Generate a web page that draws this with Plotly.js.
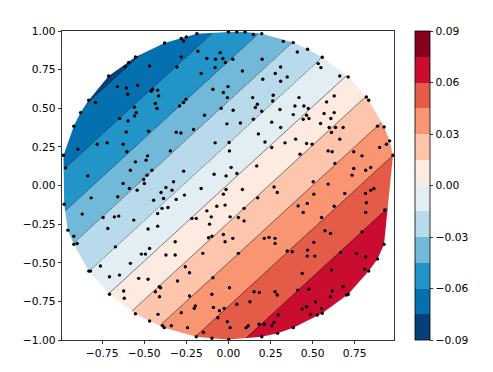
<!DOCTYPE html>
<html>
<head>
<meta charset="utf-8">
<script src="https://cdn.plot.ly/plotly-3.0.1.min.js"></script>
<style>html,body{margin:0;padding:0;background:#fff;}#chart{width:493px;height:372px;}</style>
</head>
<body>
<div id="chart"></div>
<script>
// scattered sample points
const ptsX = [
-0.379,-0.552,-0.592,-0.612,-0.468,-0.711,-0.659,-0.606,-0.539,-0.598,-0.450,-0.458,-0.420,-0.414,-0.829,-0.789,-0.558,-0.434,-0.424,-0.547,-0.557,-0.878,-0.645,-0.596,-0.918,-0.607,-0.474,
-0.280,-0.266,-0.250,-0.187,0.000,0.050,0.099,0.148,0.198,0.326,-0.181,-0.049,-0.128,-0.077,-0.033,-0.018,0.026,0.200,-0.280,-0.306,-0.079,-0.162,0.083,0.310,0.278,0.349,0.204,0.310,-0.002,-0.092,-0.030,-0.006,-0.252,-0.266,-0.290,-0.043,0.028,0.144,0.172,0.160,0.198,0.266,0.263,0.306,-0.142,-0.009,0.071,0.148,0.257,0.310,-0.310,-0.282,-0.207,0.178,
0.385,0.470,0.409,0.557,0.533,0.549,0.661,0.711,0.419,0.819,0.833,0.628,0.395,0.448,0.583,0.474,0.464,0.478,0.444,0.385,0.568,0.628,0.608,0.547,0.598,0.612,0.636,0.681,0.885,0.924,
-0.894,-0.779,-0.720,-0.625,-0.602,-0.345,-0.979,-0.967,-0.480,-0.489,-0.552,-0.582,-0.454,-0.483,-0.835,-0.503,-0.499,-0.326,-0.625,-0.542,-0.588,-0.371,-0.335,-0.400,-0.657,-0.815,-0.444,-0.385,-0.975,-0.868,-0.744,-0.677,-0.651,-0.562,-0.394,-0.359,-0.420,-0.953,-0.918,-0.716,-0.477,-0.420,
-0.079,0.004,0.006,0.217,0.257,0.336,-0.266,-0.085,-0.014,0.016,0.050,0.168,-0.310,-0.261,-0.162,-0.030,-0.014,0.083,0.174,0.271,0.290,-0.069,-0.020,-0.128,0.093,0.010,0.059,0.093,-0.102,-0.217,-0.191,-0.112,-0.098,-0.118,-0.030,0.026,0.213,0.241,0.277,
0.399,0.464,0.497,0.661,0.592,0.616,0.425,0.744,0.793,0.632,0.744,0.815,0.845,0.734,0.898,0.938,0.957,0.977,0.503,0.592,0.507,0.691,0.814,0.845,0.864,0.819,0.414,0.468,0.628,0.444,0.815,0.928,0.553,0.573,0.606,0.793,
-0.918,-0.898,-0.671,-0.517,-0.493,-0.468,-0.371,-0.829,-0.819,-0.760,-0.582,-0.706,-0.647,-0.533,-0.477,-0.706,-0.622,-0.618,-0.410,-0.403,-0.434,-0.409,-0.552,-0.468,-0.418,-0.391,-0.381,-0.339,
-0.316,-0.316,-0.020,-0.152,-0.256,-0.231,-0.302,0.277,0.349,0.059,-0.092,0.006,-0.231,-0.098,0.152,0.184,0.277,0.290,0.128,-0.197,-0.203,-0.089,-0.053,-0.025,0.050,-0.280,-0.063,-0.006,0.010,0.105,0.118,0.182,0.213,0.257,0.271,0.296,-0.243,-0.148,-0.098,-0.191,0.198,0.292,0.002,
0.507,0.470,0.379,0.468,0.513,0.438,0.612,0.666,0.760,0.815,0.885,0.924,0.809,0.833,0.411,0.478,0.616,0.606,0.681,0.711,0.701,0.517,0.438,0.464,0.488,0.527,0.553,0.557,0.385
];
const ptsY = [
0.922,0.832,0.796,0.767,0.774,0.709,0.640,0.631,0.649,0.591,0.623,0.610,0.617,0.580,0.552,0.537,0.507,0.531,0.498,0.472,0.450,0.472,0.434,0.418,0.384,0.347,0.351,
0.951,0.935,0.961,0.983,0.994,0.994,0.994,0.977,0.983,0.933,0.869,0.860,0.822,0.817,0.822,0.796,0.817,0.817,0.832,0.767,0.763,0.725,0.741,0.767,0.725,0.703,0.688,0.675,0.640,0.623,0.602,0.569,0.558,0.537,0.515,0.500,0.487,0.569,0.526,0.505,0.481,0.584,0.547,0.492,0.455,0.399,0.405,0.429,0.410,0.375,0.345,0.340,0.362,0.334,
0.925,0.882,0.864,0.830,0.789,0.763,0.709,0.703,0.569,0.573,0.552,0.580,0.515,0.515,0.541,0.498,0.455,0.434,0.429,0.459,0.466,0.472,0.434,0.401,0.375,0.343,0.375,0.375,0.384,0.379,
0.235,0.267,0.276,0.267,0.218,0.224,0.196,0.114,0.192,0.164,0.153,0.099,0.099,0.067,0.062,0.039,0.013,0.024,0.013,-0.030,-0.019,-0.013,-0.030,-0.045,-0.073,-0.080,-0.095,-0.084,-0.121,-0.185,-0.207,-0.203,-0.198,-0.224,-0.148,-0.142,-0.181,-0.289,-0.328,-0.278,-0.282,-0.263,
0.276,0.278,0.224,0.282,0.246,0.276,0.093,0.073,0.062,0.117,0.078,0.127,-0.090,-0.062,-0.019,-0.056,-0.026,-0.026,-0.080,-0.009,-0.045,-0.134,-0.127,-0.164,-0.148,-0.203,-0.207,-0.229,-0.203,-0.213,-0.213,-0.250,-0.328,-0.338,-0.317,-0.342,-0.342,-0.336,-0.342,
0.300,0.272,0.267,0.300,0.224,0.218,0.203,0.218,0.192,0.143,0.110,0.099,0.117,0.067,0.246,0.267,0.289,0.196,0.024,0.009,-0.056,-0.051,-0.051,-0.030,-0.019,-0.112,-0.132,-0.116,-0.134,-0.174,-0.174,-0.159,-0.207,-0.293,-0.310,-0.300,
-0.381,-0.375,-0.397,-0.444,-0.444,-0.407,-0.450,-0.554,-0.554,-0.521,-0.504,-0.591,-0.580,-0.601,-0.607,-0.704,-0.683,-0.730,-0.655,-0.662,-0.688,-0.720,-0.830,-0.877,-0.834,-0.908,-0.920,-0.908,
-0.364,-0.450,-0.364,-0.439,-0.526,-0.565,-0.618,-0.375,-0.424,-0.439,-0.597,-0.662,-0.715,-0.704,-0.688,-0.692,-0.688,-0.709,-0.752,-0.780,-0.795,-0.789,-0.811,-0.795,-0.769,-0.823,-0.856,-0.882,-0.920,-0.920,-0.908,-0.898,-0.898,-0.908,-0.886,-0.838,-0.920,-0.950,-0.989,-0.979,-0.979,-0.957,-0.996,
-0.368,-0.418,-0.429,-0.457,-0.457,-0.569,-0.547,-0.433,-0.439,-0.461,-0.476,-0.381,-0.541,-0.554,-0.677,-0.670,-0.683,-0.720,-0.655,-0.704,-0.709,-0.752,-0.800,-0.785,-0.834,-0.838,-0.795,-0.827,-0.920
];

const fieldAlongDiag = [-0.0875, -0.0846, -0.0817, -0.0688, -0.0557, -0.0420, -0.0273, -0.0138,
                        0.0006, 0.0156, 0.0300, 0.0434, 0.0560, 0.0669, 0.0770, 0.0790, 0.0810];
const gridNodes = [-1, -0.75, -0.5, -0.25, 0, 0.25, 0.5, 0.75, 1];

// contour levels and colorbar ticks
const levelStart = -0.09, levelEnd = 0.09, levelStep = 0.015;
const cbTicks = [-0.09, -0.06, -0.03, 0.00, 0.03, 0.06, 0.09];
const xTicks = [-0.75, -0.5, -0.25, 0, 0.25, 0.5, 0.75];
const yTicks = [-1, -0.75, -0.5, -0.25, 0, 0.25, 0.5, 0.75, 1];
const bandColors = ['#063f7a','#0570b0','#2394c8','#72b8d8','#b8daeb','#e3eef4',
                    '#fdeae1','#fdc6ac','#fa9574','#e45c48','#cb0c31','#87001f'];

(function () {
  // grid: the field depends on x - y only; node (i, j) has u = x_j - y_i
  const n = gridNodes.length;
  const gridZ = gridNodes.map((_, i) => gridNodes.map((_, j) => fieldAlongDiag[j - i + (n - 1)]));

  // stepwise colorscale for contour fills (plotly evaluates band midpoints at k/13)
  const nb = bandColors.length, nl = nb + 1;
  const fillScale = [];
  bandColors.forEach((c, k) => {
    const a = k === 0 ? 0 : (k + 0.5) / nl;
    const b = k === nb - 1 ? 1 : (k + 1.5) / nl;
    fillScale.push([a, c], [b, c]);
  });
  // stepwise colorscale for the colorbar
  const barScale = [];
  bandColors.forEach((c, k) => { barScale.push([k / nb, c], [(k + 1) / nb, c]); });

  // convex hull of the points (outline of the triangulated region)
  function convexHull(xs, ys) {
    const p = xs.map((x, i) => [x, ys[i]]).sort((a, b) => a[0] - b[0] || a[1] - b[1]);
    const cross = (o, a, b) => (a[0]-o[0])*(b[1]-o[1]) - (a[1]-o[1])*(b[0]-o[0]);
    const lo = [], up = [];
    for (const q of p) { while (lo.length >= 2 && cross(lo[lo.length-2], lo[lo.length-1], q) <= 0) lo.pop(); lo.push(q); }
    for (let i = p.length - 1; i >= 0; i--) { const q = p[i]; while (up.length >= 2 && cross(up[up.length-2], up[up.length-1], q) <= 0) up.pop(); up.push(q); }
    up.pop(); lo.pop();
    return lo.concat(up); // counter-clockwise
  }
  let hull = convexHull(ptsX, ptsY);
  let topIdx = 0; hull.forEach((q, i) => { if (q[1] > hull[topIdx][1]) topIdx = i; });
  hull = hull.slice(topIdx).concat(hull.slice(0, topIdx));
  const mX = [], mY = [];
  hull.forEach(q => { mX.push(q[0]); mY.push(q[1]); });
  const B = 5;
  mX.push(hull[0][0], hull[0][0], B, B, -B, -B, hull[0][0]);
  mY.push(hull[0][1], B, B, -B, -B, B, B);

  const font = {family: 'DejaVu Sans, sans-serif', size: 10.7, color: '#000'};

  const traces = [
    { // colorbar carrier
      type: 'heatmap', x: [0, 0.01], y: [0, 0.01], z: [[levelStart, levelEnd], [levelStart, levelEnd]],
      zmin: levelStart, zmax: levelEnd, colorscale: barScale, opacity: 0, hoverinfo: 'skip',
      colorbar: {
        x: 1.063, xanchor: 'left', xpad: 0, y: 0.5, yanchor: 'middle', ypad: 0,
        len: 1, lenmode: 'fraction', thickness: 15, thicknessmode: 'pixels',
        outlinewidth: 0.8, outlinecolor: '#000',
        tickvals: cbTicks, tickformat: '.2f', ticks: 'outside', ticklen: 3.5, tickwidth: 0.8,
        tickcolor: '#000', tickfont: font
      }
    },
    { // filled bands
      type: 'contour', x: gridNodes, y: gridNodes, z: gridZ, showscale: false,
      autocontour: false, colorscale: fillScale,
      contours: {start: levelStart, end: levelEnd, size: levelStep, coloring: 'fill', showlines: false},
      line: {width: 0, smoothing: 0}, hoverinfo: 'skip'
    },
    { // negative levels, dashed
      type: 'contour', x: gridNodes, y: gridNodes, z: gridZ, showscale: false, autocontour: false,
      contours: {start: levelStart, end: -levelStep / 2, size: levelStep, coloring: 'none'},
      line: {color: '#000', width: 0.5, dash: '2px,1px', smoothing: 0}, hoverinfo: 'skip'
    },
    { // non-negative levels, solid
      type: 'contour', x: gridNodes, y: gridNodes, z: gridZ, showscale: false, autocontour: false,
      contours: {start: 0, end: levelEnd, size: levelStep, coloring: 'none'},
      line: {color: '#000', width: 0.5, smoothing: 0}, hoverinfo: 'skip'
    },
    { // white outside the triangulated hull
      type: 'scatter', mode: 'lines', x: mX, y: mY, fill: 'toself', fillcolor: '#ffffff',
      line: {width: 0, color: 'rgba(0,0,0,0)', simplify: false}, hoverinfo: 'skip', showlegend: false
    },
    { // sample points
      type: 'scatter', mode: 'markers', x: ptsX, y: ptsY,
      marker: {color: '#000', size: 3.4}, hoverinfo: 'skip', showlegend: false
    }
  ];

  const axisCommon = {
    showgrid: false, zeroline: false, showline: true, linecolor: '#000', linewidth: 0.8,
    mirror: true, ticks: 'outside', ticklen: 3.5, tickwidth: 0.8, tickcolor: '#000',
    tickfont: font, tickformat: '.2f'
  };

  const layout = {
    width: 493, height: 372,
    margin: {l: 62, r: 99, t: 31, b: 32},
    paper_bgcolor: '#fff', plot_bgcolor: '#fff',
    showlegend: false, font: font,
    xaxis: Object.assign({}, axisCommon, {range: [-0.988, 0.983], tickvals: xTicks}),
    yaxis: Object.assign({}, axisCommon, {range: [-1, 1], tickvals: yTicks})
  };

  Plotly.newPlot('chart', traces, layout, {staticPlot: true, displayModeBar: false});
})();
</script>
</body>
</html>
